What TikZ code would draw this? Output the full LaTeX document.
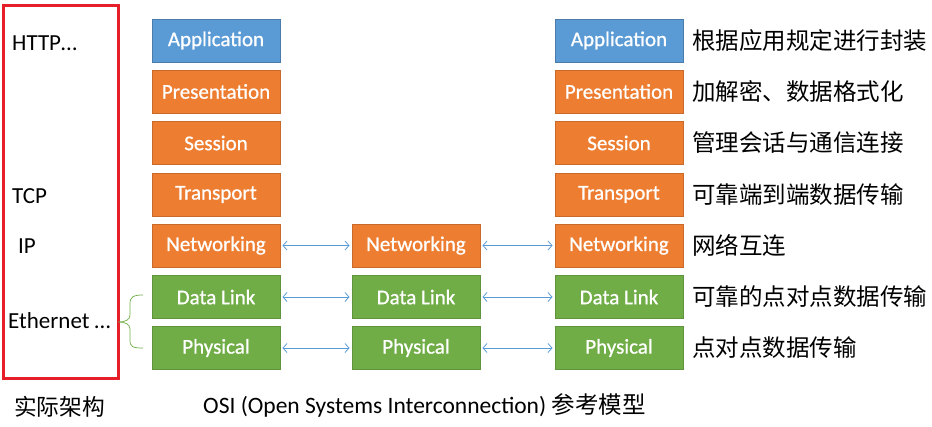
\documentclass[tikz,border=0pt]{standalone}
\usepackage{fontspec}
\setmainfont{Carlito}
\newfontfamily\boxfont[FakeBold=0.8]{Carlito}
\newfontfamily\cjk{Noto Sans CJK SC}
\usetikzlibrary{arrows.meta}
\definecolor{appblue}{RGB}{91,155,213}
\definecolor{apporange}{RGB}{237,125,49}
\definecolor{appgreen}{RGB}{112,173,71}
\definecolor{arrowblue}{RGB}{91,155,213}
\definecolor{framered}{RGB}{230,30,40}
\tikzset{
  layer/.style={minimum width=128pt, minimum height=43pt, inner sep=0pt, line width=1pt,
    text=white, font=\boxfont\fontsize{21}{25}\selectfont},
  bluebox/.style={layer, fill=appblue, draw=appblue!80!black},
  orangebox/.style={layer, fill=apporange, draw=apporange!85!black},
  greenbox/.style={layer, fill=appgreen, draw=appgreen!85!black},
  link/.style={arrowblue, line width=0.8pt, {Straight Barb[length=4pt,width=9pt]}-{Straight Barb[length=4pt,width=9pt]}},
  desc/.style={anchor=west, inner sep=0pt, font=\cjk\fontsize{23.5}{28}\selectfont},
  proto/.style={anchor=west, inner sep=0pt, font=\fontsize{23}{27}\selectfont}
}
\begin{document}
\begin{tikzpicture}[x=1pt,y=-1pt]
\useasboundingbox (0,0) rectangle (932,426);
% real architecture frame
\node[draw=framered, line width=3pt, minimum width=115pt, minimum height=373pt, inner sep=0pt] (frame) at (60.5,191.5) {};
\node[proto] (http) at (12,43) {HTTP\ldots};
\node[proto] (tcp) at (12,196) {TCP};
\node[proto] (ip) at (18,246) {IP};
\node[proto] (eth) at (8,321) {Ethernet \ldots};
\node[anchor=west, inner sep=0pt, font=\cjk\fontsize{22.7}{27}\selectfont] (real) at (14,407) {实际架构};

% stacks
\foreach \name/\sty/\txt/\y in {A/bluebox/Application/40.5, P/orangebox/Presentation/91.5, S/orangebox/Session/143, T/orangebox/Transport/194.5, N/orangebox/Networking/245.5, D/greenbox/Data Link/297, Ph/greenbox/Physical/348}{
  \node[\sty] (L\name) at (216,\y) {\txt};
  \node[\sty] (R\name) at (619,\y) {\txt};
}
\node[orangebox] (MN) at (416,245.5) {Networking};
\node[greenbox] (MD) at (416,297) {Data Link};
\node[greenbox] (MPh) at (416,348) {Physical};

\foreach \n in {N,D,Ph}{
  \draw[link] ([xshift=2pt]L\n.east) -- ([xshift=-2pt]M\n.west);
  \draw[link] ([xshift=2pt]M\n.east) -- ([xshift=-2pt]R\n.west);
}

% brace
\coordinate (bt) at (143,295);
\coordinate (bb) at (143,348);
\coordinate (btip) at (118,322);
\draw[appgreen, line width=0.7pt] (bt) .. controls (133,295) and (130,297) .. (130,304)
  -- (130,315) .. controls (130,320) and (125,322) .. (btip)
  .. controls (125,322) and (130,324) .. (130,329)
  -- (130,340) .. controls (130,347) and (133,348) .. (bb);

% descriptions
\node[desc] (dA) at (692,40.5) {根据应用规定进行封装};
\node[desc] (dP) at (692,91.5) {加解密、数据格式化};
\node[desc] (dS) at (692,143) {管理会话与通信连接};
\node[desc] (dT) at (692,194.5) {可靠端到端数据传输};
\node[desc] (dN) at (692,245.5) {网络互连};
\node[desc] (dD) at (692,297) {可靠的点对点数据传输};
\node[desc] (dPh) at (692,348) {点对点数据传输};

\node[anchor=west, inner sep=0pt, font=\fontsize{23.5}{28}\selectfont] (osi) at (203,405) {OSI (Open Systems Interconnection) {\cjk 参考模型}};
\end{tikzpicture}
\end{document}
